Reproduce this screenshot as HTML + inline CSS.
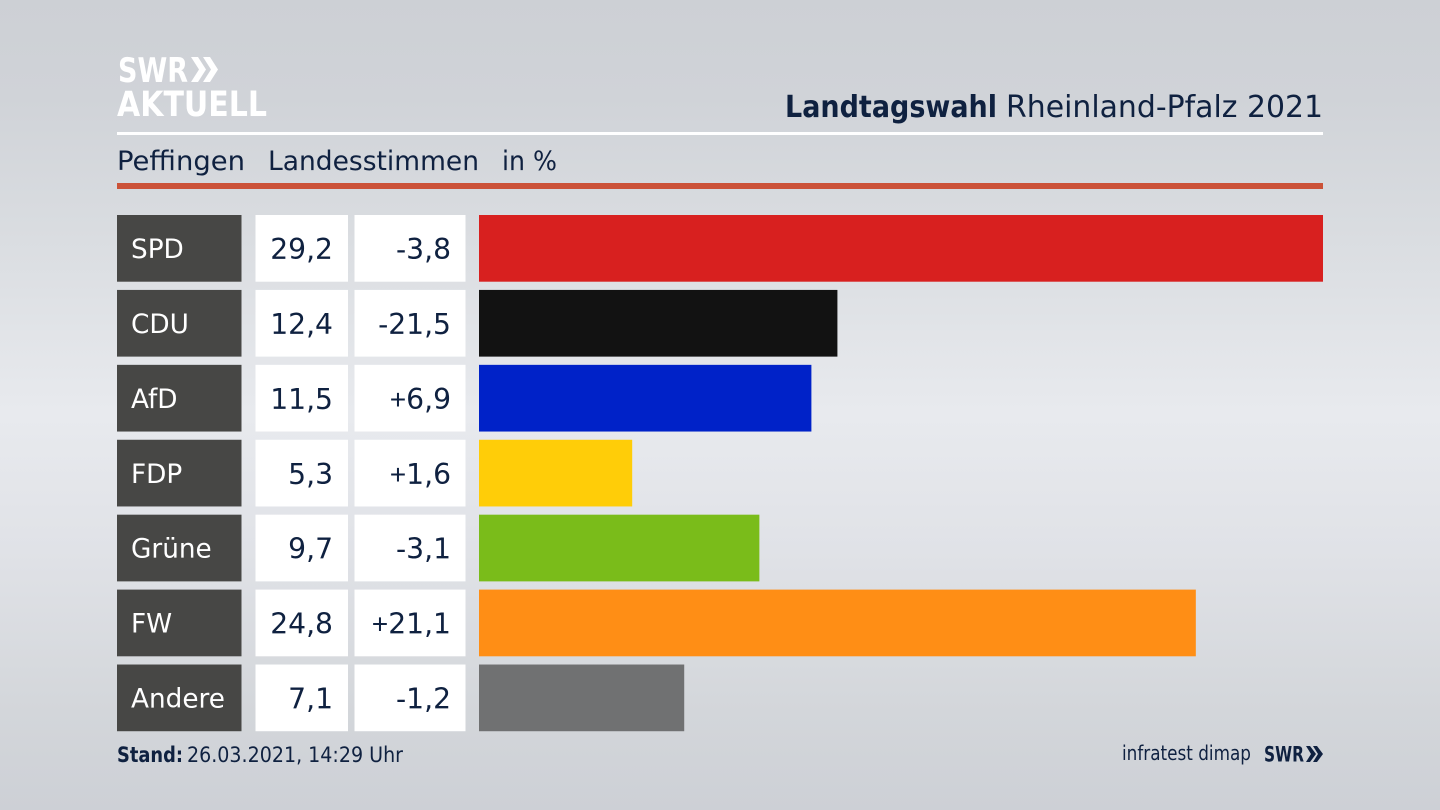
<!DOCTYPE html>
<html lang="de">
<head>
<meta charset="utf-8">
<title>Landtagswahl Rheinland-Pfalz 2021 – Peffingen</title>
<style>
html,body{margin:0;padding:0;width:1440px;height:810px;overflow:hidden}
body{background:linear-gradient(180deg,#cdd0d5 0%,#d0d3d8 12%,#d9dce0 28%,#e8eaee 51%,#e0e2e7 68%,#d3d6da 88%,#cdd0d6 100%)}
svg{display:block;position:absolute;left:0;top:0}
text{font-family:"DejaVu Sans","Liberation Sans",sans-serif;fill:#0f2140}
</style>
</head>
<body>
<svg id="chart" width="1440" height="810" viewBox="0 0 1440 810" xmlns="http://www.w3.org/2000/svg">
  <g>
    <text x="118" y="82" font-size="34" font-weight="700" textLength="70" lengthAdjust="spacingAndGlyphs" style="fill:#fff">SWR</text>
    <polygon points="191,57 198,57 206,69.500 198,82 191,82 199,69.500" fill="#fff"/>
    <polygon points="203,57 210,57 218,69.500 210,82 203,82 211,69.500" fill="#fff"/>
    <text x="117" y="116" font-size="35" font-weight="700" textLength="150" lengthAdjust="spacingAndGlyphs" style="fill:#fff">AKTUELL</text>
  </g>
  <text x="785" y="117" font-size="30" font-weight="700" textLength="212" lengthAdjust="spacingAndGlyphs">Landtagswahl</text>
  <text x="1006" y="117" font-size="30" textLength="317" lengthAdjust="spacingAndGlyphs">Rheinland-Pfalz 2021</text>
  <rect x="117" y="132" width="1206" height="3" fill="#fff"/>
  <text x="117" y="170" font-size="27" textLength="128" lengthAdjust="spacingAndGlyphs">Peffingen</text>
  <text x="268" y="170" font-size="27" textLength="211" lengthAdjust="spacingAndGlyphs">Landesstimmen</text>
  <text x="502" y="170" font-size="27" textLength="55" lengthAdjust="spacingAndGlyphs">in %</text>
  <rect x="117" y="183" width="1206" height="6" fill="#cb5238"/>
  <g id="rows"></g>
  <text x="117" y="762" font-size="21" font-weight="700" textLength="66" lengthAdjust="spacingAndGlyphs">Stand:</text>
  <text x="187" y="762" font-size="21" textLength="216" lengthAdjust="spacingAndGlyphs">26.03.2021, 14:29 Uhr</text>
  <text x="1122" y="760" font-size="20" textLength="129" lengthAdjust="spacingAndGlyphs">infratest dimap</text>
  <text x="1264" y="761.500" font-size="21" font-weight="700" textLength="40" lengthAdjust="spacingAndGlyphs">SWR</text>
  <polygon points="1306,746 1310,746 1316,754 1310,762 1306,762 1311,754" fill="#0f2140"/>
  <polygon points="1313,746 1317,746 1323,754 1317,762 1313,762 1318,754" fill="#0f2140"/>
</svg>
<script>
const parties = ['SPD', 'CDU', 'AfD', 'FDP', 'Grüne', 'FW', 'Andere'];
const shares = [29.2, 12.4, 11.5, 5.3, 9.7, 24.8, 7.1];
const changes = [-3.8, -21.5, 6.9, 1.6, -3.1, 21.1, -1.2];
const partyColors = ['#d8201f', '#121212', '#0022c8', '#ffcd08', '#7abc1a', '#ff8e15', '#707172'];

const NS = 'http://www.w3.org/2000/svg';
const rowsGroup = document.getElementById('rows');
const axisMax = Math.max(...shares);

function xScale(value) {
  return (value / axisMax) * (1323 - 479);
}
function yBand(index) {
  return 215 + index * 74.92;
}
function formatShare(value) {
  return value.toFixed(1).replace('.', ',');
}
function slug(name) {
  return name.toLowerCase().replace('ü', 'ue');
}
function makeRect(x, y, w, h, fill) {
  const r = document.createElementNS(NS, 'rect');
  r.setAttribute('x', x);
  r.setAttribute('y', y);
  r.setAttribute('width', w);
  r.setAttribute('height', h);
  r.setAttribute('fill', fill);
  return r;
}
function makeText(x, y, size, anchor, fill, content) {
  const t = document.createElementNS(NS, 'text');
  t.setAttribute('x', x);
  t.setAttribute('y', y);
  t.setAttribute('font-size', size);
  t.setAttribute('text-anchor', anchor);
  t.style.fill = fill;
  t.textContent = content;
  return t;
}
function makeChangeText(x, y, size, value) {
  const t = makeText(x, y, size, 'end', '#0f2140', '');
  if (value > 0) {
    const plus = document.createElementNS(NS, 'tspan');
    plus.style.fontFamily = '"Liberation Sans", sans-serif';
    plus.textContent = '+';
    t.appendChild(plus);
  }
  t.appendChild(document.createTextNode(formatShare(value)));
  return t;
}

parties.forEach(function (party, i) {
  const y = yBand(i);
  const h = 66.7;
  const base = y + 44;
  const key = slug(party);

  const labelBox = makeRect(117, y, 124.5, h, '#474745');
  
  
  rowsGroup.appendChild(labelBox);

  const label = makeText(131, base - 1, 26.3, 'start', '#ffffff', party);
  
  
  rowsGroup.appendChild(label);

  const shareBox = makeRect(255.500, y, 92.500, h, '#ffffff');
  
  
  rowsGroup.appendChild(shareBox);

  const shareText = makeText(333, base, 28.2, 'end', '#0f2140', formatShare(shares[i]));
  
  
  rowsGroup.appendChild(shareText);

  const changeBox = makeRect(354.500, y, 111, h, '#ffffff');
  
  
  rowsGroup.appendChild(changeBox);

  const changeText = makeChangeText(451, base, 28.2, changes[i]);
  
  
  rowsGroup.appendChild(changeText);

  const bar = makeRect(479, y, xScale(shares[i]), h, partyColors[i]);
  
  
  rowsGroup.appendChild(bar);
});
</script>
</body>
</html>
